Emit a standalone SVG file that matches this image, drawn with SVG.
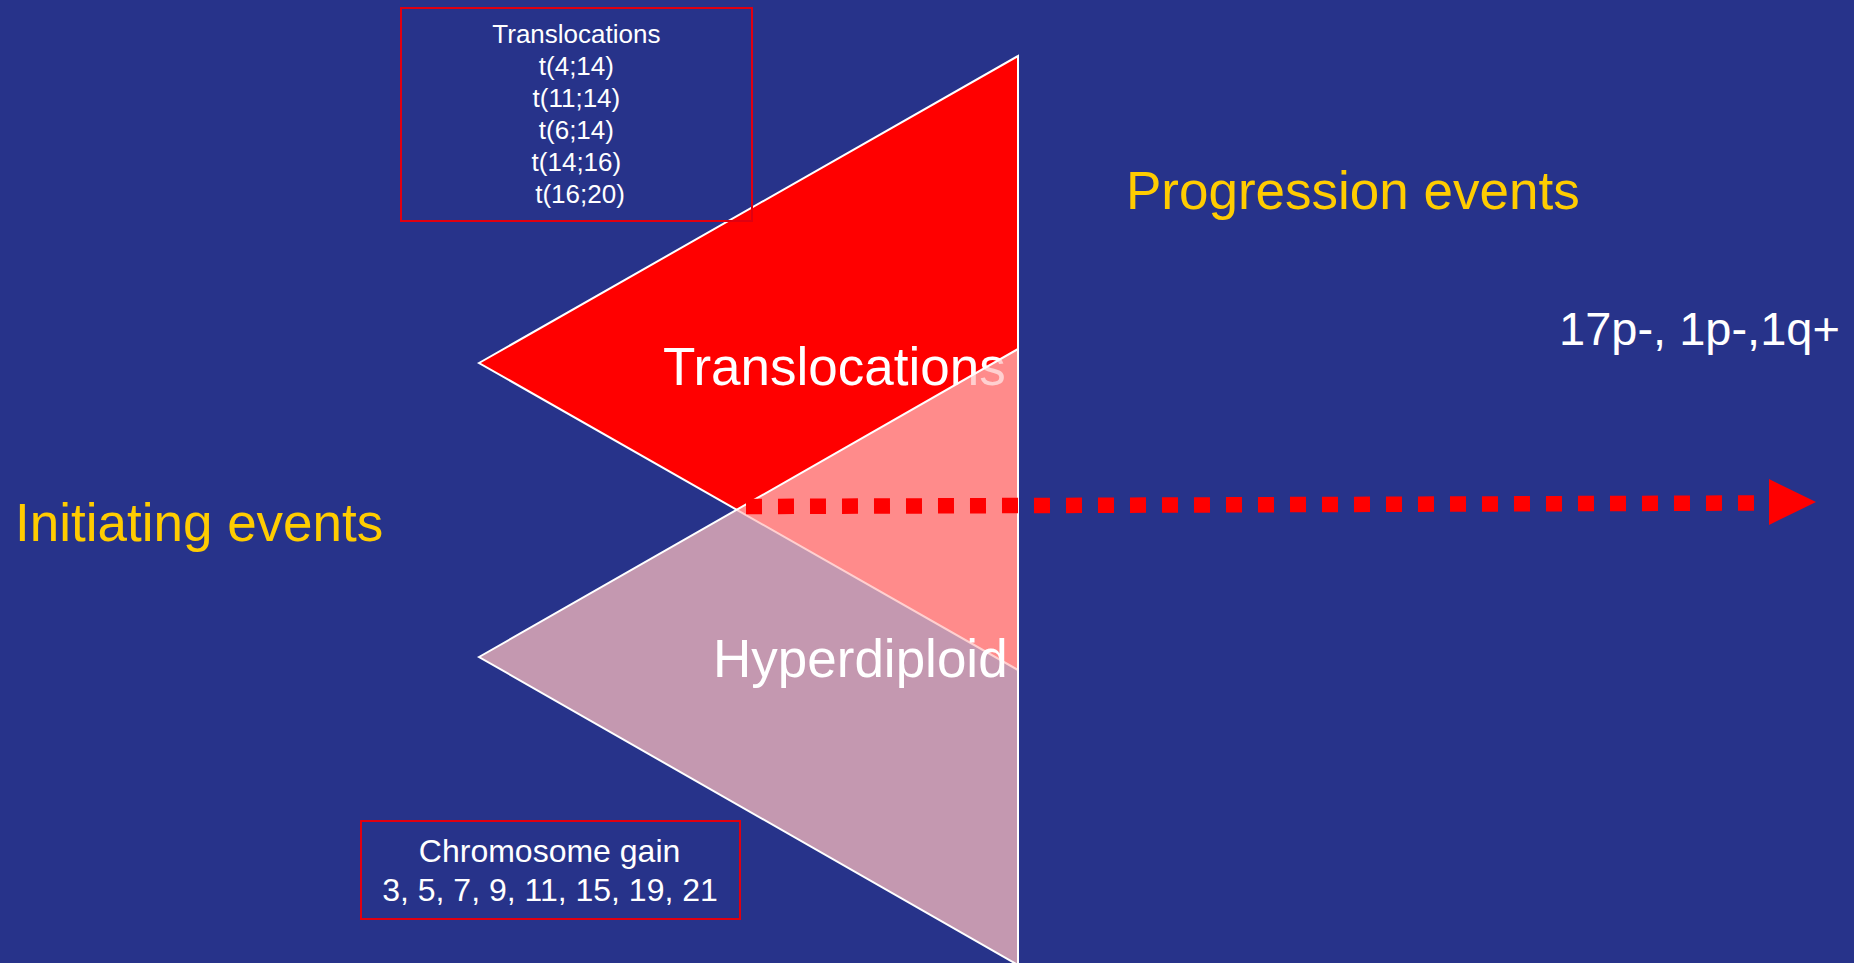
<svg xmlns="http://www.w3.org/2000/svg" width="1854" height="963" viewBox="0 0 1854 963">
  <style>
    text { font-family: "Liberation Sans", Arial, sans-serif; }
    .yellow { fill: #FFCC00; font-size: 53px; }
    .white { fill: #FFFFFF; }
    .box { fill: none; stroke: #E00010; stroke-width: 2; }
    .tri { stroke: #FFFFFF; stroke-width: 2; stroke-linejoin: miter; }
  </style>
  <rect x="0" y="0" width="1854" height="963" fill="#27338A"/>

  <g id="translocations-triangle">
    <polygon class="tri" points="479,363 1018,56 1018,670" fill="#FF0000"/>
    <text class="white" x="663" y="385" font-size="53">Translocations</text>
  </g>

  <g id="hyperdiploid-triangle">
    <polygon class="tri" points="479,657 1018,349 1018,965" fill="#FFBEBE" fill-opacity="0.73"/>
    <text class="white" x="713" y="677" font-size="53">Hyperdiploid</text>
  </g>

  <g id="translocations-box">
    <rect class="box" x="401" y="8" width="351" height="213"/>
    <text class="white" font-size="26" text-anchor="middle">
      <tspan x="580" y="43">Translocations</tspan>
      <tspan x="580" y="75">t(4;14)</tspan>
      <tspan x="580" y="107">t(11;14)</tspan>
      <tspan x="580" y="139">t(6;14)</tspan>
      <tspan x="580" y="171">t(14;16)</tspan>
      <tspan x="580" y="203">t(16;20)</tspan>
    </text>
  </g>

  <g id="chromosome-box">
    <rect class="box" x="361" y="821" width="379" height="98"/>
    <text class="white" font-size="32" text-anchor="middle">
      <tspan x="554" y="862">Chromosome gain</tspan>
      <tspan x="550" y="901">3, 5, 7, 9, 11, 15, 19, 21</tspan>
    </text>
  </g>

  <g id="initiating-label">
    <text class="yellow" x="15" y="541">Initiating events</text>
  </g>

  <g id="progression-label">
    <text class="yellow" x="1126" y="209">Progression events</text>
  </g>

  <g id="progression-events">
    <text class="white" x="1559" y="345" font-size="47">17p-, 1p-,1q+</text>
  </g>

  <g id="connectors">
    <line x1="746" y1="506.5" x2="1754" y2="503" stroke="#FF0000" stroke-width="15.5" stroke-dasharray="16 16"/>
    <polygon points="1769,479 1816,502 1769,525" fill="#FF0000"/>
  </g>
</svg>
